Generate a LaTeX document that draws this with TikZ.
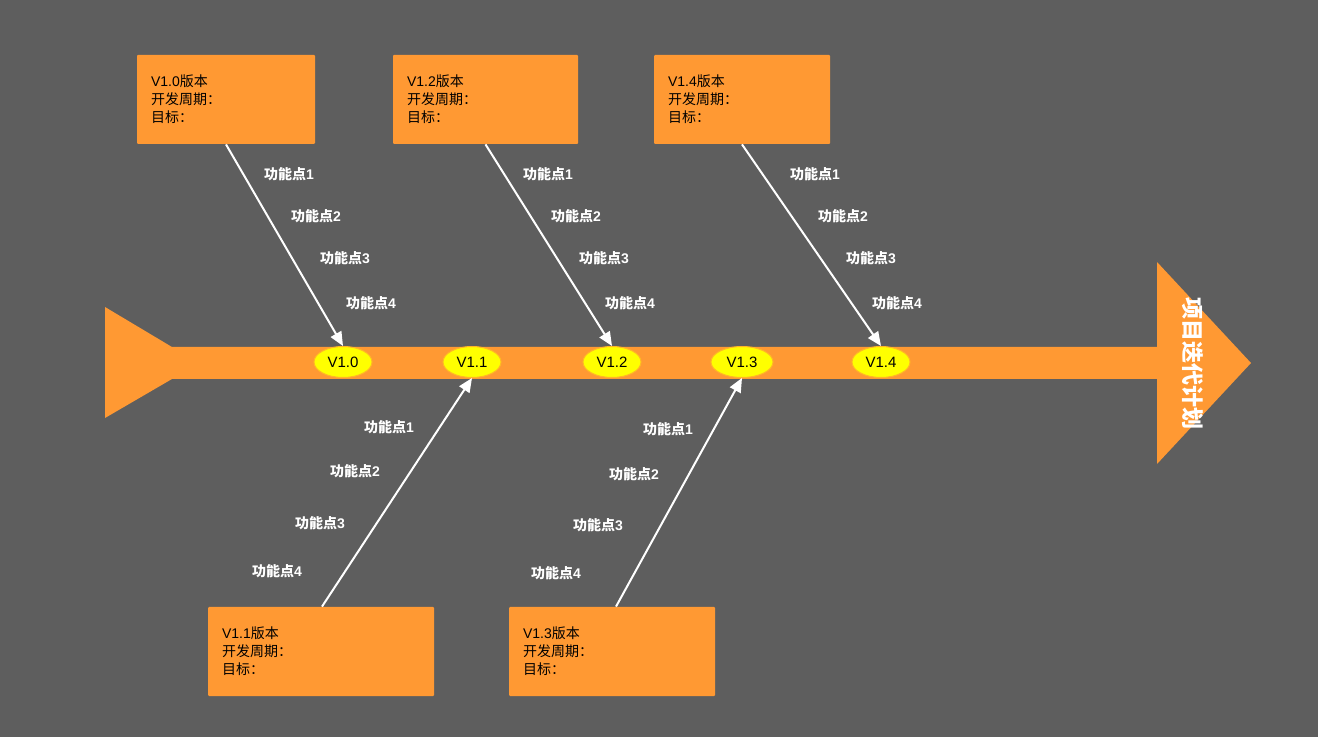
\documentclass[tikz,border=0pt]{standalone}
\usepackage{fontspec}
\setmainfont{Liberation Sans}
\newfontfamily\cjk{Noto Sans CJK SC}
\usetikzlibrary{arrows.meta,shapes.geometric}
\definecolor{bgray}{RGB}{94,94,94}
\definecolor{fishorange}{RGB}{255,153,51}
\definecolor{veryellow}{RGB}{255,255,0}
\tikzset{
  verbox/.style={fill=fishorange,rounded corners=0.5pt,align=left,inner xsep=7pt,
    minimum height=44.5pt,font=\fontsize{7}{9}\selectfont,text=black},
  vertag/.style={ellipse,fill=veryellow,draw=fishorange!70!veryellow,line width=0.5pt,
    minimum width=29pt,minimum height=15.5pt,inner sep=0pt,font=\fontsize{7.5}{8}\selectfont},
  feat/.style={text=white,font=\fontsize{7}{8}\selectfont\bfseries},
  bone/.style={draw=white,line width=1pt,-{Triangle[length=7pt,width=6pt]}}
}
\newcommand{\featcol}[2]{%
  % node prefix, x/y of the four labels
  \foreach \x/\y [count=\i] in {#2}{%
    \node[feat] (#1-f\i) at (\x,\y) {{\cjk 功能点}\i};
  }
}

\begin{document}
\begin{tikzpicture}[x=0.5pt,y=-0.5pt]
  \fill[bgray] (0,0) rectangle (1318,737);
  \useasboundingbox (0,0) rectangle (1318,737);
  % spine
  \fill[fishorange] (105,307) -- (172,347) -- (1157,347) -- (1157,262) -- (1251,363)
    -- (1157,464) -- (1157,379) -- (172,379) -- (105,418) -- cycle;
  \node[text=white,font=\fontsize{11}{11}\selectfont\bfseries\cjk,rotate=-90] (title) at (1193,364) {项目迭代计划};
  % version tags
  \node[vertag] (v10) at (343,362) {V1.0};
  \node[vertag] (v11) at (472,362) {V1.1};
  \node[vertag] (v12) at (612,362) {V1.2};
  \node[vertag,minimum width=31pt] (v13) at (742,362) {V1.3};
  \node[vertag] (v14) at (881,362) {V1.4};
  % version boxes
  \node[verbox,text width=75pt] (b10) at (226,99.5) {V1.0{\cjk 版本}\\{\cjk 开发周期：}\\{\cjk 目标：}};
  \node[verbox,text width=78.5pt] (b12) at (485.5,99.5) {V1.2{\cjk 版本}\\{\cjk 开发周期：}\\{\cjk 目标：}};
  \node[verbox,text width=74pt] (b14) at (742,99.5) {V1.4{\cjk 版本}\\{\cjk 开发周期：}\\{\cjk 目标：}};
  \node[verbox,text width=99pt] (b11) at (321,651.5) {V1.1{\cjk 版本}\\{\cjk 开发周期：}\\{\cjk 目标：}};
  \node[verbox,text width=89pt] (b13) at (612,651.5) {V1.3{\cjk 版本}\\{\cjk 开发周期：}\\{\cjk 目标：}};
  % bones
  \draw[bone] (b10.south) -- (v10.north);
  \draw[bone] (b12.south) -- (v12.north);
  \draw[bone] (b14.south) -- (v14.north);
  \draw[bone] ([xshift=0.5pt]b11.north) -- (v11.south);
  \draw[bone] ([xshift=2pt]b13.north) -- (v13.south);
  % feature labels
  \featcol{b10}{289/174,316/216,345/258,371/303}
  \featcol{b12}{548/174,576/216,604/258,630/303}
  \featcol{b14}{815/174,843/216,871/258,897/303}
  \featcol{b11}{389/427,355/471,320/523,277/571}
  \featcol{b13}{668/429,634/474,598/525,556/573}
\end{tikzpicture}
\end{document}
